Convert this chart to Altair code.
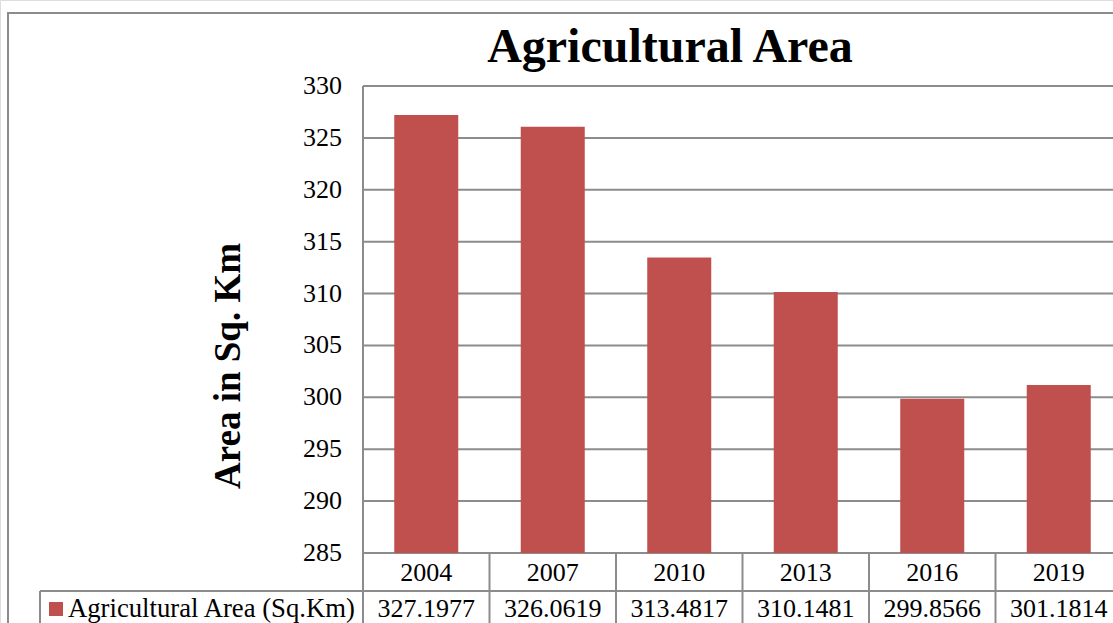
import altair as alt
import pandas as pd

years = ["2004", "2007", "2010", "2013", "2016", "2019"]
area = [327.1977, 326.0619, 313.4817, 310.1481, 299.8566, 301.1814]
y_ticks = [285, 290, 295, 300, 305, 310, 315, 320, 325, 330]

FONT = "Liberation Serif"
BAR = "#C0504D"
LINE = "#8c8c8c"

df = pd.DataFrame({"year": years, "area": area})
ticks = pd.DataFrame({"v": y_ticks})
one = pd.DataFrame({"a": [0]})

xs = alt.Scale(domain=years, range=[363, 1122], paddingInner=0, paddingOuter=0)
ys = alt.Scale(domain=[285, 330], range=[553, 86], nice=False, zero=False)

# outer chart frame
frame = alt.Chart(one).mark_rect(fill="white", stroke=LINE, strokeWidth=2).encode(
    x=alt.value(8), x2=alt.value(1300), y=alt.value(13), y2=alt.value(800)
)

grid = alt.Chart(ticks).mark_rule(color=LINE, strokeWidth=2).encode(
    y=alt.Y("v:Q", scale=ys, axis=None),
    x=alt.value(363), x2=alt.value(1200),
)

ylabels = alt.Chart(ticks).mark_text(
    font=FONT, fontSize=26, align="right", baseline="middle", color="black"
).encode(
    y=alt.Y("v:Q", scale=ys, axis=None),
    x=alt.value(342),
    text=alt.Text("v:Q"),
)

bars = alt.Chart(df).mark_bar(color=BAR, width=alt.RelativeBandSize(0.506)).encode(
    x=alt.X("year:N", scale=xs, axis=None),
    y=alt.Y("area:Q", scale=ys, axis=None),
    y2=alt.Y2(datum=285),
)

# plot-area left border
left_border = alt.Chart(one).mark_rule(color=LINE, strokeWidth=2).encode(
    x=alt.value(363), y=alt.value(86), y2=alt.value(553)
)

# data table: column dividers
dividers = alt.Chart(df).mark_rule(color=LINE, strokeWidth=2).encode(
    x=alt.X("year:N", scale=xs, axis=None, bandPosition=0),
    y=alt.value(553), y2=alt.value(800),
)
row_line = alt.Chart(one).mark_rule(color=LINE, strokeWidth=2).encode(
    x=alt.value(40), x2=alt.value(1200), y=alt.value(591)
)
legend_left = alt.Chart(one).mark_rule(color=LINE, strokeWidth=2).encode(
    x=alt.value(40), y=alt.value(591), y2=alt.value(800)
)

year_text = alt.Chart(df).mark_text(
    font=FONT, fontSize=26, baseline="middle", color="black"
).encode(
    x=alt.X("year:N", scale=xs, axis=None, bandPosition=0.5),
    y=alt.value(573),
    text="year:N",
)
val_text = alt.Chart(df).mark_text(
    font=FONT, fontSize=26, baseline="middle", color="black"
).encode(
    x=alt.X("year:N", scale=xs, axis=None, bandPosition=0.5),
    y=alt.value(609),
    text=alt.Text("area:Q", format=".4f"),
)

legend_sq = alt.Chart(one).mark_square(color=BAR, size=196, opacity=1).encode(
    x=alt.value(56), y=alt.value(609)
)
legend_txt = alt.Chart(one).mark_text(
    font=FONT, fontSize=26.7, align="left", baseline="middle", color="black",
    text="Agricultural Area (Sq.Km)",
).encode(x=alt.value(68), y=alt.value(609))

title = alt.Chart(one).mark_text(
    font=FONT, fontSize=48, fontWeight="bold", align="center",
    baseline="alphabetic", color="black", text="Agricultural Area",
).encode(x=alt.value(670), y=alt.value(62))

ytitle = alt.Chart(one).mark_text(
    font=FONT, fontSize=37, fontWeight="bold", align="center",
    baseline="middle", color="black", angle=270, text="Area in Sq. Km",
).encode(x=alt.value(229), y=alt.value(366))

chart = alt.layer(
    frame, grid, ylabels, bars, left_border, dividers, row_line, legend_left,
    year_text, val_text, legend_sq, legend_txt, title, ytitle,
).properties(
    width=1113, height=623, padding=0,
    autosize=alt.AutoSizeParams(type="none"),
).configure_view(stroke=None).configure(background="white")

chart.save("out.html", embed_options={"renderer": "svg", "actions": False})
